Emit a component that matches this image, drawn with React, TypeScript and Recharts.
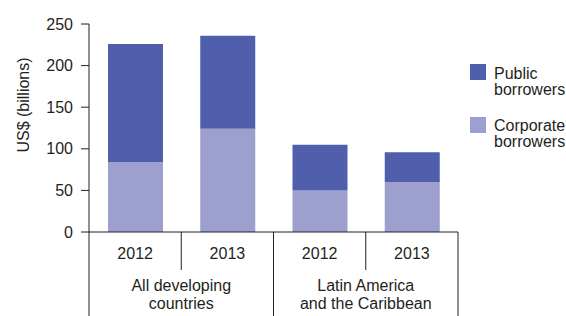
import { BarChart, Bar, XAxis, YAxis, Legend } from "recharts";

const years = ["2012", "2013", "2012", "2013"];
const groupLabels = [
  ["All developing", "countries"],
  ["Latin America", "and the Caribbean"],
];
const corporate = [84, 124, 50, 60];
const publicB = [142, 112, 55, 36];
const yTicks = [0, 50, 100, 150, 200, 250];

const data = years.map((year, i) => ({
  year,
  corporate: corporate[i],
  public: publicB[i],
}));

const FONT = "'Liberation Sans', Arial, Helvetica, sans-serif";
const TEXT = "#231f20";
const LINE = "#231f20";
const DARK = "#505fab";
const LIGHT = "#9d9fce";

function YearTick(props: any) {
  const { x, y, index, payload, width, visibleTicksCount } = props;
  const bw = (width || 369) / (visibleTicksCount || 4);
  const left = x - bw / 2;
  const right = x + bw / 2;
  const first = index % 2 === 0;
  const group = groupLabels[Math.floor(index / 2)];
  return (
    <g>
      <text x={x} y={y + 27} textAnchor="middle" fill={TEXT} fontSize={16} fontFamily={FONT}>
        {payload.value}
      </text>
      {first ? (
        <line x1={left} y1={y} x2={left} y2={316} stroke={LINE} strokeWidth={1} />
      ) : (
        <g>
          <line x1={left} y1={y} x2={left} y2={y + 38} stroke={LINE} strokeWidth={1} />
          <line x1={right} y1={y} x2={right} y2={316} stroke={LINE} strokeWidth={1} />
          <text x={left} y={y + 59} textAnchor="middle" fill={TEXT} fontSize={16} fontFamily={FONT}>
            {group[0]}
          </text>
          <text x={left} y={y + 77} textAnchor="middle" fill={TEXT} fontSize={16} fontFamily={FONT}>
            {group[1]}
          </text>
        </g>
      )}
    </g>
  );
}

function LegendBox(props: any) {
  const items = [...(props.payload || [])].reverse();
  return (
    <div style={{ fontFamily: FONT, fontSize: 16, color: TEXT }}>
      {items.map((item: any, i: number) => (
        <div key={i} style={{ display: "flex", marginBottom: 19 }}>
          <div style={{ width: 16, height: 16, background: item.color, marginRight: 8 }} />
          <div style={{ lineHeight: "16px", marginTop: 1.5 }}>
            {String(item.value)
              .split(" ")
              .map((w: string, j: number) => (
                <div key={j}>{w}</div>
              ))}
          </div>
        </div>
      ))}
    </div>
  );
}

export default function App() {
  return (
    <div style={{ position: "absolute", left: 0, top: 0, background: "#fff" }}>
      <BarChart
        width={566}
        height={316}
        data={data}
        margin={{ top: 24, right: 108, left: 0, bottom: 0 }}
        barSize={55}
      >
        <XAxis
          dataKey="year"
          height={84}
          tickLine={false}
          tickSize={0}
          tickMargin={0}
          axisLine={{ stroke: LINE, strokeWidth: 1 }}
          interval={0}
          tick={<YearTick />}
        />
        <YAxis
          width={89}
          domain={[0, 250]}
          ticks={yTicks}
          interval={0}
          tickSize={8}
          tickMargin={8}
          axisLine={{ stroke: LINE, strokeWidth: 1 }}
          tickLine={{ stroke: LINE, strokeWidth: 1 }}
          tick={{ fill: TEXT, fontSize: 16, fontFamily: FONT }}
          label={{
            content: (p: any) => {
              const vb = p.viewBox || { x: 0, y: 24 };
              const cx = vb.x + 23;
              const cy = 105;
              return (
                <text
                  x={cx}
                  y={cy}
                  dy="0.35em"
                  textAnchor="middle"
                  transform={`rotate(-90, ${cx}, ${cy})`}
                  fill={TEXT}
                  fontSize={16}
                  fontFamily={FONT}
                >
                  US$ (billions)
                </text>
              );
            },
          }}
        />
        <Legend
          layout="vertical"
          align="center"
          verticalAlign="middle"
          content={<LegendBox />}
          wrapperStyle={{ left: 470, top: 64, width: 96 }}
        />
        <Bar dataKey="corporate" name="Corporate borrowers" stackId="a" fill={LIGHT} isAnimationActive={false} />
        <Bar dataKey="public" name="Public borrowers" stackId="a" fill={DARK} isAnimationActive={false} />
      </BarChart>
    </div>
  );
}
